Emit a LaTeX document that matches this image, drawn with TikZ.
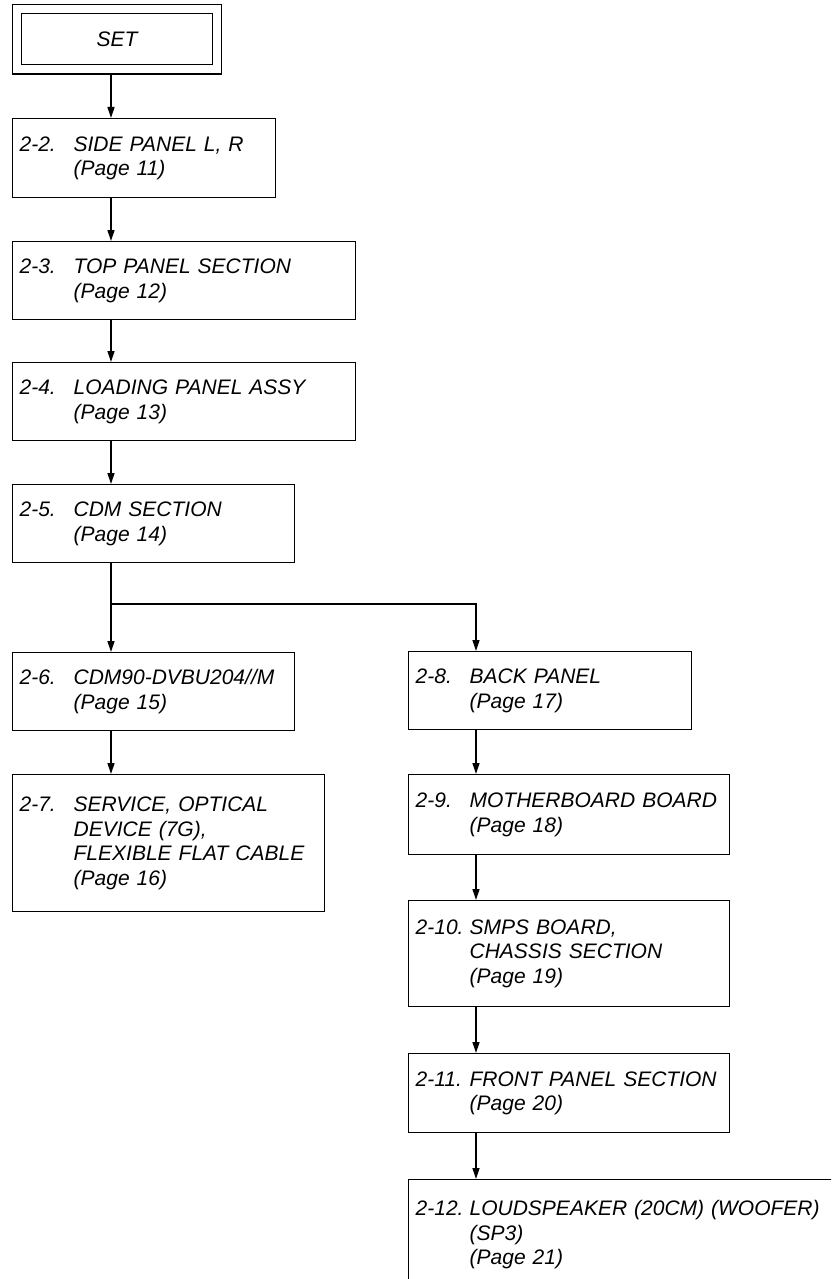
\documentclass[tikz,border=0pt]{standalone}
\usepackage{fontspec}
\setmainfont{Liberation Sans}
\usetikzlibrary{arrows.meta}
\newcommand\lbl[1]{\makebox[54pt][l]{#1}}
\newcommand\ind{\hspace*{54pt}}
\begin{document}
\begin{tikzpicture}[x=1pt,y=-1pt,
  every node/.style={font=\itshape\fontsize{21}{24.5}\selectfont},
  box/.style={draw, line width=1.3pt, rectangle, anchor=north west, inner xsep=7pt, inner ysep=0pt, align=left},
  setbox/.style={draw, line width=1.3pt, double, double distance=8pt, outer sep=5.3pt, rectangle, minimum width=200pt, minimum height=60.5pt, inner sep=0pt},
  ln/.style={line width=1.3pt},
  arr/.style={line width=1.3pt, -{Triangle[length=11pt,width=7pt]}}]
\useasboundingbox (0,0) rectangle (831,1279);
\clip (0,0) rectangle (831,1279);
\coordinate (lx) at (111,0);
\coordinate (rx) at (476,0);

\node[setbox] (set) at (117,39.25) {SET};

\node[box, minimum width=263pt, minimum height=79pt, text width=249pt] (b22) at (12,118)
  {\lbl{2-2.}SIDE PANEL L, R\\\ind(Page 11)};
\node[box, minimum width=343pt, minimum height=78pt, text width=329pt] (b23) at (12,241)
  {\lbl{2-3.}TOP PANEL SECTION\\\ind(Page 12)};
\node[box, minimum width=343pt, minimum height=78pt, text width=329pt] (b24) at (12,362)
  {\lbl{2-4.}LOADING PANEL ASSY\\\ind(Page 13)};
\node[box, minimum width=282pt, minimum height=78pt, text width=268pt] (b25) at (12,484)
  {\lbl{2-5.}CDM SECTION\\\ind(Page 14)};
\node[box, minimum width=282pt, minimum height=78pt, text width=268pt] (b26) at (12,652)
  {\lbl{2-6.}CDM90-DVBU204//M\\\ind(Page 15)};
\node[box, minimum width=312pt, minimum height=137pt, text width=298pt] (b27) at (12,774)
  {\lbl{2-7.}SERVICE, OPTICAL\\\ind DEVICE (7G),\\\ind FLEXIBLE FLAT CABLE\\\ind(Page 16)};

\node[box, minimum width=283pt, minimum height=78pt, text width=269pt] (b28) at (408,651)
  {\lbl{2-8.}BACK PANEL\\\ind(Page 17)};
\node[box, minimum width=321pt, minimum height=80pt, text width=307pt] (b29) at (408,774)
  {\lbl{2-9.}MOTHERBOARD BOARD\\\ind(Page 18)};
\node[box, minimum width=321pt, minimum height=106pt, text width=307pt] (b210) at (408,900)
  {\lbl{2-10.}SMPS BOARD,\\\ind CHASSIS SECTION\\\ind(Page 19)};
\node[box, minimum width=321pt, minimum height=79pt, text width=307pt] (b211) at (408,1053)
  {\lbl{2-11.}FRONT PANEL SECTION\\\ind(Page 20)};
\node[box, minimum width=440pt, minimum height=110pt, text width=426pt] (b212) at (408,1179)
  {\lbl{2-12.}LOUDSPEAKER (20CM) (WOOFER)\\\ind(SP3)\\\ind(Page 21)};

\coordinate (j) at (111,604);
\draw[arr] (set.south -| lx) -- (b22.north -| lx);
\draw[arr] (b22.south -| lx) -- (b23.north -| lx);
\draw[arr] (b23.south -| lx) -- (b24.north -| lx);
\draw[arr] (b24.south -| lx) -- (b25.north -| lx);
\draw[ln] (b25.south -| lx) -- (j);
\draw[arr] (j) -- (b26.north -| lx);
\draw[arr] (j) -| (b28.north -| rx);
\draw[arr] (b26.south -| lx) -- (b27.north -| lx);
\draw[arr] (b28.south -| rx) -- (b29.north -| rx);
\draw[arr] (b29.south -| rx) -- (b210.north -| rx);
\draw[arr] (b210.south -| rx) -- (b211.north -| rx);
\draw[arr] (b211.south -| rx) -- (b212.north -| rx);
\end{tikzpicture}
\end{document}
